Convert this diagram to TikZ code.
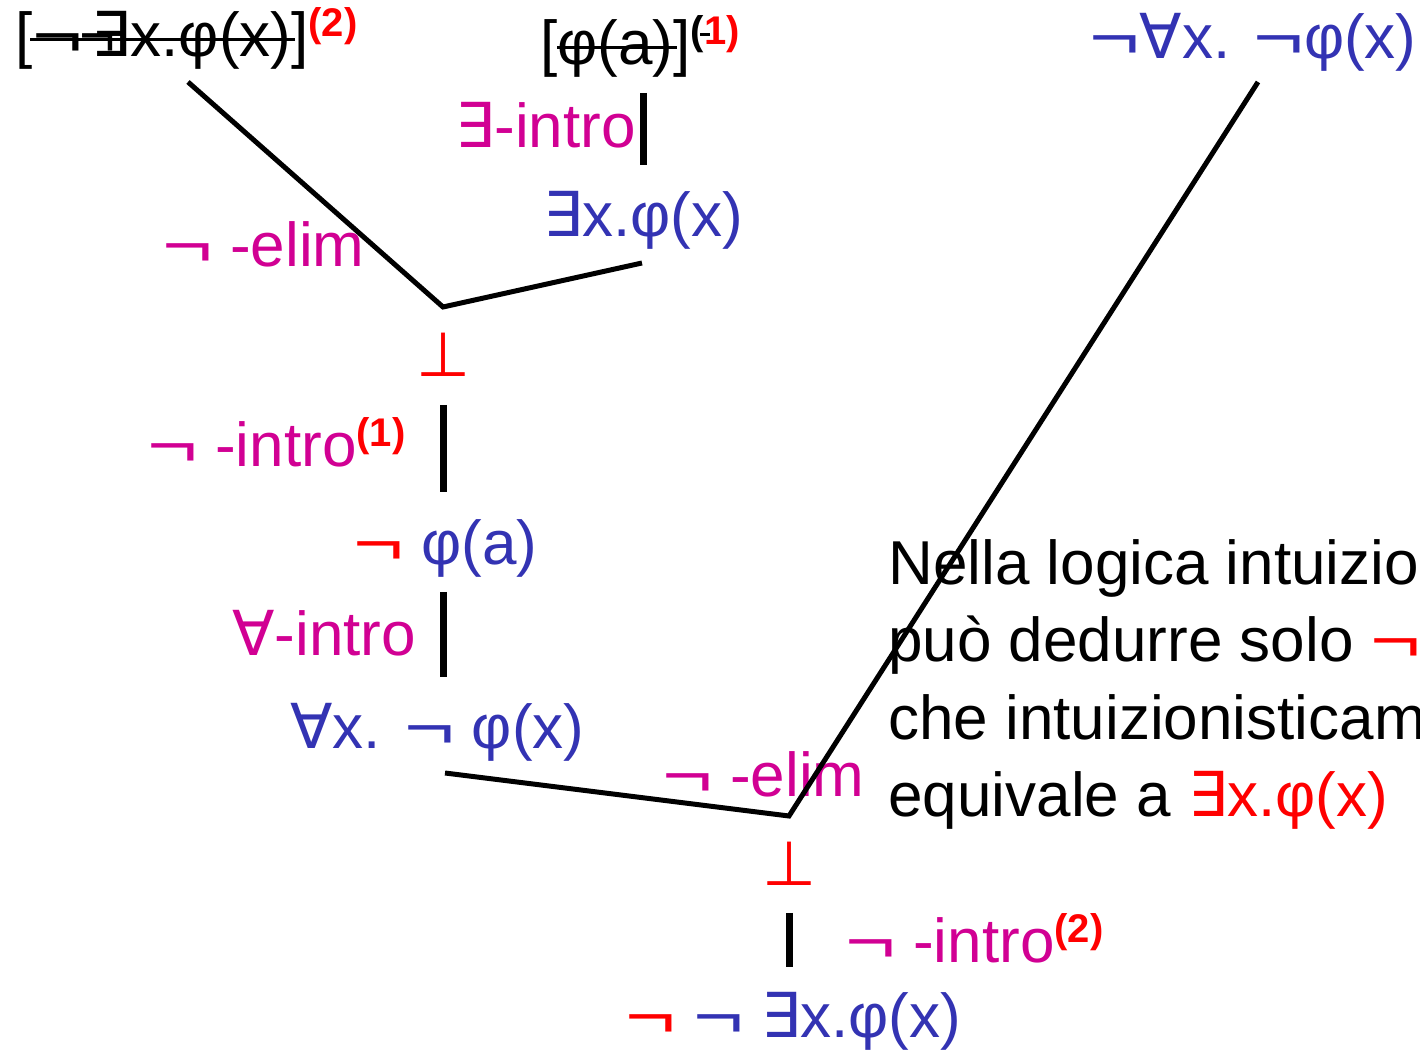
\documentclass[tikz,border=0pt]{standalone}
\usepackage{fontspec}
\setmainfont{Liberation Sans}
\newfontfamily\simb{DejaVu Sans}
\usepackage{graphicx}
\usepackage{xcolor}
\usetikzlibrary{calc}
\definecolor{blu}{HTML}{3333B3}
\definecolor{viola}{HTML}{D10093}
\definecolor{rosso}{HTML}{FF0000}
\newcommand{\esiste}{{\simb ∃}}
\newcommand{\pertutti}{{\simb ∀}}
\newcommand{\assurdo}{{\simb ⊥}}
\newcommand{\non}{\scalebox{1.4}[1]{¬}}
\newcommand{\apice}[1]{\raisebox{10pt}{\fontsize{20}{24}\selectfont\bfseries #1}}
\tikzset{
  every node/.style={inner sep=0pt, anchor=base west, font=\fontsize{31}{37}\selectfont},
  formula/.style={text=blu},
  regola/.style={text=viola},
  falso/.style={text=rosso},
  testo/.style={text=black},
  ramo/.style={line width=2.5pt, black},
  barra/.style={line width=3.5pt, black},
  barrato/.style={line width=1.5pt, black},
}
\begin{document}
\begin{tikzpicture}[x=0.5pt, y=-0.5pt]
  \useasboundingbox (0,0) rectangle (1420,1052);
  \clip (0,0) rectangle (1420,1052);
  % ipotesi
  \node[testo] (ipA) at (15,57) {[\non\kern-2pt¬\kern-12pt\esiste x.φ(x)]\textcolor{rosso}{\apice{(2)}}};
  \node[testo] (ipB) at (540,65) {[φ(a)]\apice{(\textcolor{rosso}{1)}}};
  \node[formula, anchor=base east] (ipC) at (1417,59) {\non\pertutti x. \non φ(x)};
  \draw[barrato] ($(ipA.base west)+(15,-17)$) -- ++(265,0);
  \draw[barrato] ($(ipB.base west)+(17,-17)$) -- ++(120,0);
  \draw[barrato] ($(ipB.base west)+(160,-30)$) -- ++(10,0);
  % ramo sinistro
  \node[regola] (rEi) at (455,148) {\esiste-intro};
  \node[formula] (fEx) at (543,237) {\esiste x.φ(x)};
  \node[regola] (rEl1) at (162,267) {\non\ -elim};
  \node[falso, anchor=base] (bot1) at (443,377) {\assurdo};
  \node[regola] (rIn1) at (147,467) {\non\ -intro\textcolor{rosso}{\apice{(1)}}};
  \node[formula] (fNa) at (353,565) {\textcolor{rosso}{\non} φ(a)};
  \node[regola] (rAi) at (232,656) {\pertutti-intro};
  \node[formula] (fAx) at (290,749) {\pertutti x. \non\ φ(x)};
  % ramo destro
  \node[regola] (rEl2) at (662,797) {\non\ -elim};
  \node[falso, anchor=base] (bot2) at (789,886) {\assurdo};
  \node[regola] (rIn2) at (845,963) {\non\ -intro\textcolor{rosso}{\apice{(2)}}};
  \node[formula] (fNN) at (625,1037) {\textcolor{rosso}{\non} \non\ \esiste x.φ(x)};
  % commento
  \node[testo] (t1) at (888,585) {Nella logica intuizionistica si};
  \node[testo] (t2) at (888,662) {può dedurre solo \textcolor{rosso}{\non\non\esiste x.φ(x)}};
  \node[testo] (t3) at (888,740) {che intuizionisticamente non};
  \node[testo] (t4) at (888,817) {equivale a \textcolor{rosso}{\esiste x.φ(x)}};
  % giunzioni
  \coordinate (jA) at (443,307);
  \coordinate (jB) at (789,816);
  \coordinate (pA) at (188,82);
  \coordinate (pB) at (642,263);
  \coordinate (pC) at (1258,82);
  \coordinate (pD) at (445,773);
  \draw[ramo] (pA) -- (jA) -- (pB);
  \draw[ramo] (pD) -- (jB) -- (pC);
  \draw[barra] (643,93) -- (643,165);
  \draw[barra] (443,405) -- (443,492);
  \draw[barra] (443,592) -- (443,677);
  \draw[barra] (789,913) -- (789,967);
\end{tikzpicture}
\end{document}
